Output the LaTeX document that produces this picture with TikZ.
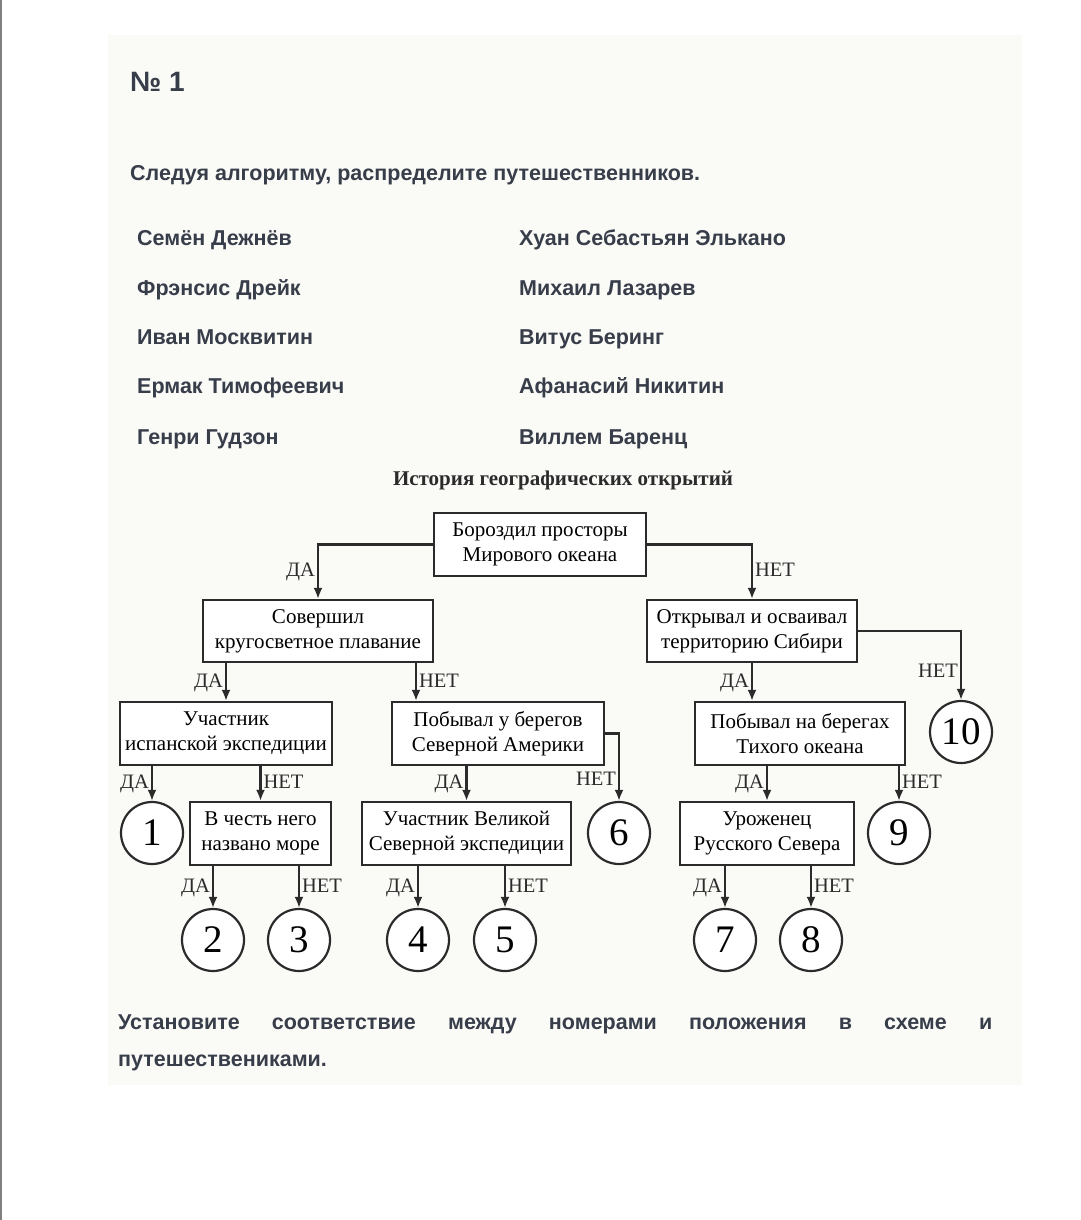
\documentclass[tikz,border=0pt]{standalone}
\usepackage{fontspec}
\setmainfont{Liberation Serif}
\newfontfamily\uifont{Liberation Sans}
\usetikzlibrary{positioning,arrows.meta}
\definecolor{inkgray}{HTML}{2B2B2B}
\definecolor{uitext}{HTML}{383D4A}
\definecolor{panel}{HTML}{FAFAF7}

\begin{document}
\begin{tikzpicture}[x=1pt,y=-1pt,
						boxnode/.style={rectangle, draw=inkgray, line width=2.2pt, fill=white, align=center, inner sep=0pt, font=\fontsize{21}{25}\selectfont},
						roundnode/.style={circle, draw=inkgray, line width=2.2pt, fill=white, minimum size=62pt, inner sep=0pt, font=\fontsize{39}{39}\selectfont},
						arr/.style={draw=inkgray, line width=2.2pt, -{Latex[length=11pt,width=9pt]}},
						yeslbl/.style={font=\fontsize{20.5}{20.5}\selectfont, text=inkgray, inner sep=2pt, text height=14pt, text depth=4pt},
						uitxt/.style={font=\uifont\bfseries\fontsize{21.5}{26}\selectfont, text=uitext, anchor=base west, inner sep=0pt},
						]
						%Page
						\fill[white] (0,0) rectangle (1080,1220);
						\useasboundingbox (0,0) rectangle (1080,1220);
						\draw[gray, line width=1.5pt] (1,0) -- (1,1220);
						\fill[panel] (108,35) rectangle (1022,1085);

						%Texts
						\node[uitxt, font=\uifont\bfseries\fontsize{28}{28}\selectfont] (num)   at (130,92)  {№ 1};
						\node[uitxt] (task)  at (130,180) {Следуя алгоритму, распределите путешественников.};
						\node[uitxt] (p1)    at (137,245) {Семён Дежнёв};
						\node[uitxt] (p2)    at (137,295) {Фрэнсис Дрейк};
						\node[uitxt] (p3)    at (137,344) {Иван Москвитин};
						\node[uitxt] (p4)    at (137,393) {Ермак Тимофеевич};
						\node[uitxt] (p5)    at (137,444) {Генри Гудзон};
						\node[uitxt] (p6)    at (519,245) {Хуан Себастьян Элькано};
						\node[uitxt] (p7)    at (519,295) {Михаил Лазарев};
						\node[uitxt] (p8)    at (519,344) {Витус Беринг};
						\node[uitxt] (p9)    at (519,393) {Афанасий Никитин};
						\node[uitxt] (p10)   at (519,444) {Виллем Баренц};
						\node[font=\bfseries\fontsize{21}{21}\selectfont, text=inkgray] (title) at (563,480) {История географических открытий};
						\node[uitxt, anchor=north west, text width=874pt, align=justify, font=\uifont\bfseries\fontsize{21.5}{37}\selectfont] (answer) at (118,1014)
							{Установите соответствие между номерами положения в схеме и\linebreak путешествениками.};

						%Boxes
						\node[boxnode, minimum width=212pt, minimum height=63pt] (root) at (540,544.5) {Бороздил просторы\\Мирового океана};
						\node[boxnode, minimum width=230pt, minimum height=62pt] (sail) at (318,631)   {Совершил\\кругосветное плавание};
						\node[boxnode, minimum width=210pt, minimum height=62pt] (sib)  at (752,631)   {Открывал и осваивал\\территорию Сибири};
						\node[boxnode, minimum width=212pt, minimum height=63pt] (spain) at (226,733.5) {Участник\\испанской экспедиции};
						\node[boxnode, minimum width=212pt, minimum height=63pt] (amer) at (498,733.5)  {Побывал у берегов\\Северной Америки};
						\node[boxnode, minimum width=210pt, minimum height=63pt] (pac)  at (800,733.5)  {Побывал на берегах\\Тихого океана};
						\node[boxnode, minimum width=141pt, minimum height=63pt] (sea)  at (260.5,833.5) {В честь него\\названо море};
						\node[boxnode, minimum width=209pt, minimum height=63pt] (great) at (466.5,833.5) {Участник Великой\\Северной экспедиции};
						\node[boxnode, minimum width=174pt, minimum height=63pt] (north) at (767,833.5)  {Уроженец\\Русского Севера};

						%Answers
						\node[roundnode] (n1)  at (152,833) {1};
						\node[roundnode] (n2)  at (213,940) {2};
						\node[roundnode] (n3)  at (299,940) {3};
						\node[roundnode] (n4)  at (418,940) {4};
						\node[roundnode] (n5)  at (505,940) {5};
						\node[roundnode] (n6)  at (619,833) {6};
						\node[roundnode] (n7)  at (725,940) {7};
						\node[roundnode] (n8)  at (811,940) {8};
						\node[roundnode] (n9)  at (899,833) {9};
						\node[roundnode] (n10) at (961,732) {10};
						\coordinate (sailno) at (416,0);

						%Lines
						\draw[arr] (root.west) -| (sail.north) node[pos=0.75, left, yeslbl] {ДА};
						\draw[arr] (root.east) -| (sib.north) node[pos=0.75, right, yeslbl] {НЕТ};

						\draw[arr] (sail.south -| spain.north) -- (spain.north) node[midway, left, yeslbl] {ДА};
						\draw[arr] (sail.south -| sailno) -- (amer.north -| sailno) node[midway, right, yeslbl] {НЕТ};
						\draw[arr] (sib.south) -- (sib.south |- pac.north) node[midway, left, yeslbl] {ДА};
						\draw[arr] (sib.east) -| (n10.north) node[pos=0.8, left, yeslbl] {НЕТ};

						\draw[arr] (spain.south -| n1.north) -- (n1.north) node[midway, left, yeslbl] {ДА};
						\draw[arr] (spain.south -| sea.north) -- (sea.north) node[midway, right, yeslbl] {НЕТ};
						\draw[arr] (amer.south -| great.north) -- (great.north) node[midway, left, yeslbl] {ДА};
						\draw[arr] (amer.east) -| (n6.north) node[pos=0.85, left, yeslbl] {НЕТ};
						\draw[arr] (pac.south -| north.north) -- (north.north) node[midway, left, yeslbl] {ДА};
						\draw[arr] (pac.south -| n9.north) -- (n9.north) node[midway, right, yeslbl] {НЕТ};

						\draw[arr] (sea.south -| n2.north) -- (n2.north) node[midway, left, yeslbl] {ДА};
						\draw[arr] (sea.south -| n3.north) -- (n3.north) node[midway, right, yeslbl] {НЕТ};
						\draw[arr] (great.south -| n4.north) -- (n4.north) node[midway, left, yeslbl] {ДА};
						\draw[arr] (great.south -| n5.north) -- (n5.north) node[midway, right, yeslbl] {НЕТ};
						\draw[arr] (north.south -| n7.north) -- (n7.north) node[midway, left, yeslbl] {ДА};
						\draw[arr] (north.south -| n8.north) -- (n8.north) node[midway, right, yeslbl] {НЕТ};
					\end{tikzpicture}
\end{document}
